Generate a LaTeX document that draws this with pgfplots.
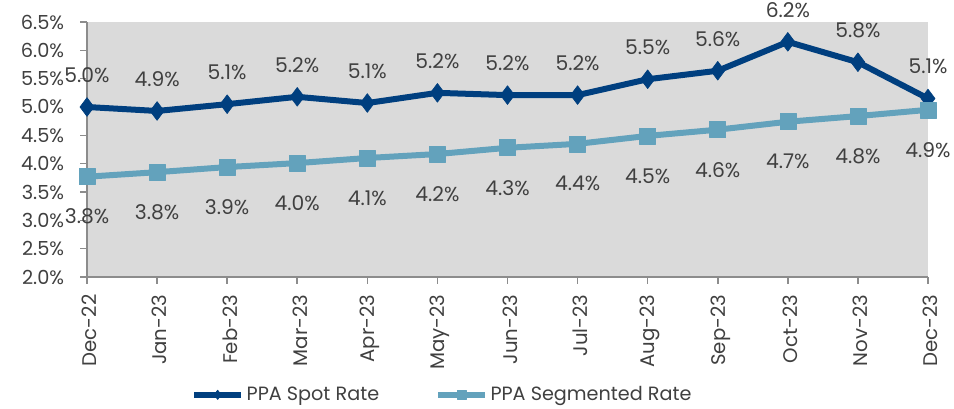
\documentclass[border=0pt]{standalone}
\usepackage{fontspec}
\setmainfont{Poppins}
\usepackage{pgfplots}
\pgfplotsset{compat=1.18}
\definecolor{spot}{HTML}{003F7F}
\definecolor{seg}{HTML}{63A2BC}
\definecolor{bg}{HTML}{DADADA}
\definecolor{txt}{HTML}{404040}
\definecolor{axisgray}{HTML}{8C8C8C}
\newcommand{\f}{\fontsize{14.5}{16}\selectfont}
\newcommand{\fx}{\fontsize{14.8}{16}\selectfont}
\newcommand{\fd}{\fontsize{15.2}{17}\selectfont}
\newcommand{\fl}{\fontsize{14.4}{16}\selectfont}
\begin{document}
\begin{tikzpicture}
\useasboundingbox (-65.25pt,-98.25pt) rectangle (650.25pt,207.75pt);
\begin{axis}[
  at={(0,0)}, anchor=south west,
  scale only axis, width=630.75pt, height=191.25pt,
  xmin=0, xmax=12, ymin=2, ymax=6.5,
  axis lines*=left,
  axis line style={draw=axisgray, line width=1.5pt, -},
  axis background/.style={fill=bg},
  tick style={draw=axisgray, line width=1.2pt},
  major tick length=5pt, tick align=outside,
  xtick={0,1,2,3,4,5,6,7,8,9,10,11,12},
  xticklabels={Dec-22,Jan-23,Feb-23,Mar-23,Apr-23,May-23,Jun-23,Jul-23,Aug-23,Sep-23,Oct-23,Nov-23,Dec-23},
  xticklabel style={rotate=90, anchor=east, font=\fx, text=txt, inner sep=0pt, xshift=-8pt, yshift=-2pt},
  ytick={2,2.5,3,3.5,4,4.5,5,5.5,6,6.5},
  yticklabels={2.0\%,2.5\%,3.0\%,3.5\%,4.0\%,4.5\%,5.0\%,5.5\%,6.0\%,6.5\%},
  yticklabel style={font=\f, text=txt, inner sep=0pt, xshift=-12pt},
  legend style={at={(0.423,-0.462)}, anchor=center, draw=none, fill=none, font=\fl, text=txt,
    legend columns=2, /tikz/every even column/.append style={column sep=40pt}},
  legend cell align=left,
  legend image code/.code={\draw[#1,mark=none] (0pt,0pt)--(35pt,0pt); \draw[#1, mark size=3.5pt] plot coordinates {(17.5pt,0pt)};},
  clip=false,
]
\addplot[spot, line width=4.5pt, line join=round, mark=diamond*, mark size=7pt, mark options={solid, line width=0.5pt},
  point meta=explicit symbolic, nodes near coords={\pgfplotspointmeta\%},
  every node near coord/.append style={anchor=center, yshift=24pt, text=txt, font=\fd}]
coordinates {
(0,5.00)[5.0] (1,4.93)[4.9] (2,5.05)[5.1] (3,5.18)[5.2] (4,5.07)[5.1] (5,5.25)[5.2]
(6,5.21)[5.2] (7,5.21)[5.2] (8,5.49)[5.5] (9,5.64)[5.6] (10,6.15)[6.2] (11,5.79)[5.8] (12,5.15)[5.1]
};
\addlegendentry{PPA Spot Rate}
\addplot[seg, line width=4.5pt, line join=round, mark=square*, mark size=6pt, mark options={solid, line width=0.5pt},
  point meta=explicit symbolic, nodes near coords={\pgfplotspointmeta\%},
  every node near coord/.append style={anchor=center, yshift=-30pt, text=txt, font=\fd}]
coordinates {
(0,3.77)[3.8] (1,3.85)[3.8] (2,3.94)[3.9] (3,4.01)[4.0] (4,4.10)[4.1] (5,4.17)[4.2]
(6,4.28)[4.3] (7,4.35)[4.4] (8,4.49)[4.5] (9,4.60)[4.6] (10,4.74)[4.7] (11,4.84)[4.8] (12,4.95)[4.9]
};
\addlegendentry{PPA Segmented Rate}
\end{axis}
\end{tikzpicture}
\end{document}
